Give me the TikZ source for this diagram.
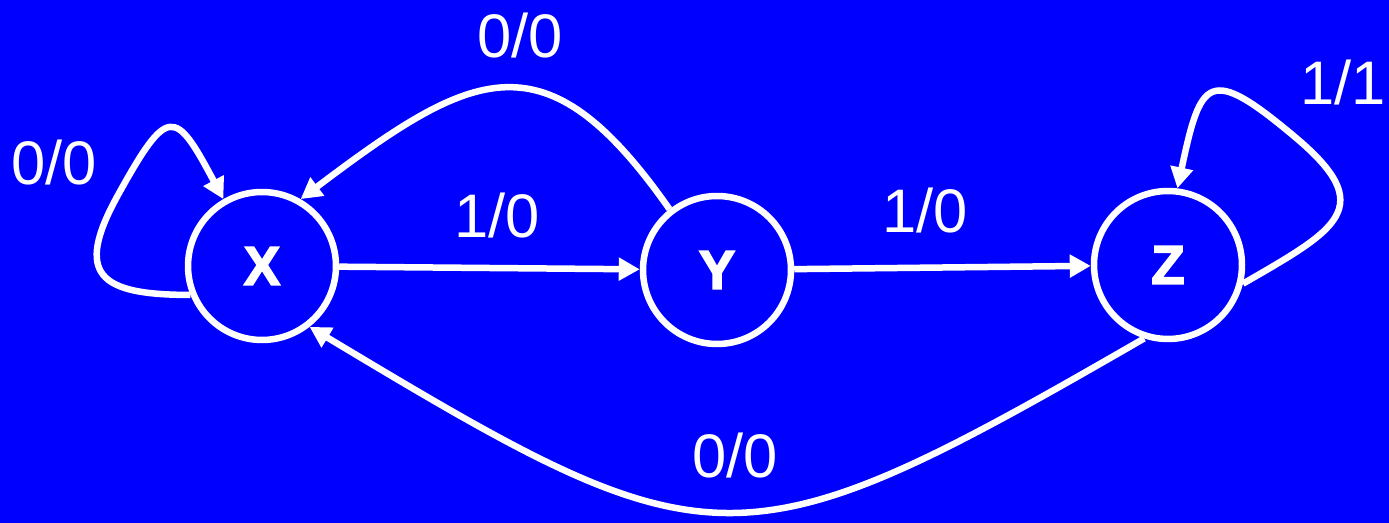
\documentclass[tikz,border=0pt]{standalone}
\usepackage{fontspec}
\setmainfont{Liberation Sans}
\newfontfamily\statefont[FakeBold=3]{Liberation Sans}
\usepackage{xcolor}
\usepackage{tikz}
\usetikzlibrary{arrows.meta,positioning,backgrounds}

\definecolor{bgblue}{RGB}{0,0,255}

\begin{document}
\begin{tikzpicture}[
  x=0.02cm, y=-0.02cm,
  >={Triangle[length=0.42cm, width=0.44cm]},
  state/.style={circle, draw=white, line width=0.13cm, inner sep=0pt,
                minimum size=2.96cm, text=white,
                font=\statefont\fontsize{31pt}{31pt}\selectfont\bfseries},
  edge/.style={->, line width=0.13cm, draw=white},
  lbl/.style={text=white, inner sep=0pt,
              font=\fontsize{35pt}{35pt}\selectfont}
]

% ==================== Canvas ================================
\fill[bgblue] (0,0) rectangle (1389,523);
\useasboundingbox (0,0) rectangle (1389,523);

% ==================== States ================================
\node[state] (X) at (262, 266) {X};
\node[state] (Y) at (717, 270) {Y};
\node[state] (Z) at (1168, 265) {Z};

% loop bends
\coordinate (xbend) at (118, 195);
\coordinate (zbend) at (1295, 137);

% ==================== Transitions ===========================
% X --1/0--> Y
\draw[edge] (X) -- (Y);
\node[lbl] (xy) at (497, 216) {1/0};

% Y --1/0--> Z
\draw[edge] (Y) -- (Z);
\node[lbl] (yz) at (925, 211) {1/0};

% Y --0/0--> X (over the top)
\draw[edge] (Y.128) to[out=125, in=37, looseness=1.5] (X.60);
\node[lbl] (yx) at (520, 36) {0/0};

% Z --0/0--> X (under the bottom)
\draw[edge] (Z.252) to[out=-150, in=-31, looseness=1.44] (X.-52);
\node[lbl] (zx) at (735, 456) {0/0};

% self loops
\draw[edge] (X.202) to[out=180, in=241, looseness=1.9] (xbend)
                    to[out=61, in=118, looseness=2.5] (X.120);
\node[lbl] (xx) at (54, 163) {0/0};

\draw[edge] (Z.-14) to[out=30, in=-40, looseness=1.8] (zbend)
                    to[out=140, in=78, looseness=2.25] (Z.83);
\node[lbl] (zz) at (1343, 83) {1/1};

\end{tikzpicture}
\end{document}
